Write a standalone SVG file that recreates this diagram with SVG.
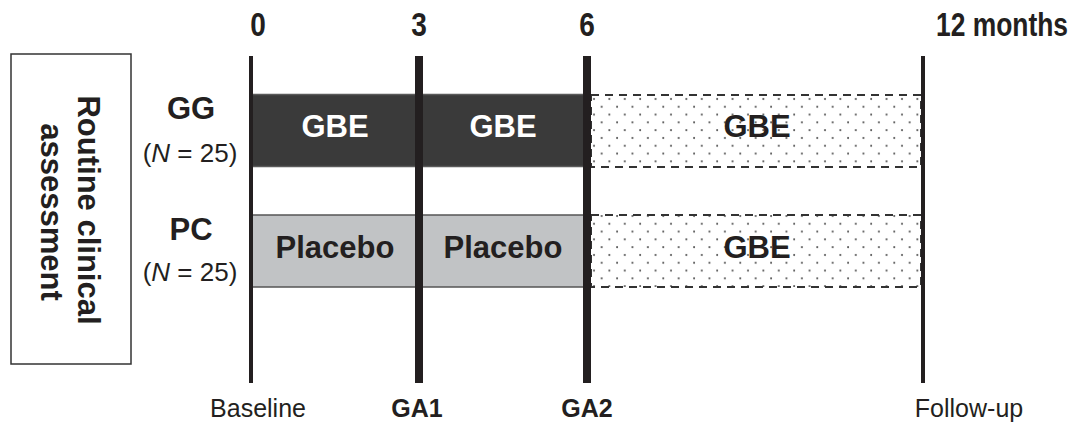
<svg xmlns="http://www.w3.org/2000/svg" width="1071" height="422" viewBox="0 0 1071 422">
  <defs>
    <pattern id="dots" x="591" y="95" width="15.4" height="15.6" patternUnits="userSpaceOnUse">
      <circle cx="3" cy="4" r="1" fill="#4a4a4a"/>
      <circle cx="10.7" cy="11.8" r="1" fill="#4a4a4a"/>
    </pattern>
    <style>
      text { font-family: "Liberation Sans", Arial, sans-serif; fill: #231f20; }
      .b { font-weight: bold; }
      .big { font-size: 31px; }
      .axis { font-size: 33px; font-weight: bold; }
      .n { font-size: 26px; }
      .sm { font-size: 25px; }
      .c { text-anchor: middle; }
      .e { text-anchor: end; }
      .w { fill: #ffffff; }
      .tl { stroke: #231f20; stroke-width: 4; }
      .tk { stroke: #231f20; stroke-width: 8; }
      .dark { fill: #3a3a3a; stroke: #5a5a5a; stroke-width: 1.5; }
      .light { fill: #c1c3c5; stroke: #555555; stroke-width: 1.5; }
      .dash { fill: url(#dots); stroke: #333; stroke-width: 2; stroke-dasharray: 8 6; }
    </style>
  </defs>
  <rect width="1071" height="422" fill="#ffffff"/>

  <!-- left box -->
  <g id="routine-assessment">
    <rect x="11" y="54" width="120" height="310" fill="#ffffff" stroke="#333" stroke-width="1.5"/>
    <text class="b big c" transform="translate(78,210) rotate(90)">Routine clinical</text>
    <text class="b big c" transform="translate(41,212) rotate(90)">assessment</text>
  </g>

  <!-- group labels -->
  <g id="label-gg">
    <text class="b big c" x="191" y="119">GG</text>
    <text class="n c" x="190" y="162">(<tspan font-style="italic">N</tspan> = 25)</text>
  </g>
  <g id="label-pc">
    <text class="b big c" x="191" y="240">PC</text>
    <text class="n c" x="190" y="281">(<tspan font-style="italic">N</tspan> = 25)</text>
  </g>

  <!-- treatment bars -->
  <g id="gg-bars">
    <rect class="dark" x="251" y="94.5" width="336" height="72"/>
    <rect class="dash" x="591" y="95" width="330" height="72"/>
    <text class="b big c w" x="335" y="137">GBE</text>
    <text class="b big c w" x="503" y="137">GBE</text>
    <text class="b big c" x="757" y="137">GBE</text>
  </g>
  <g id="pc-bars">
    <rect class="light" x="251" y="215" width="336" height="72"/>
    <rect class="dash" x="591" y="215" width="330" height="72"/>
    <text class="b big c" x="335" y="258">Placebo</text>
    <text class="b big c" x="503" y="258">Placebo</text>
    <text class="b big c" x="757" y="258">GBE</text>
  </g>

  <!-- timeline lines -->
  <g id="connectors">
    <line class="tl" x1="251" y1="56" x2="251" y2="383"/>
    <line class="tk" x1="419" y1="56" x2="419" y2="383"/>
    <line class="tk" x1="587" y1="56" x2="587" y2="383"/>
    <line class="tl" x1="923" y1="56" x2="923" y2="383"/>
  </g>

  <!-- time axis labels -->
  <g id="axis-top">
    <text class="axis c" transform="translate(258,36) scale(0.85,1)">0</text>
    <text class="axis c" transform="translate(419,36) scale(0.85,1)">3</text>
    <text class="axis c" transform="translate(587,36) scale(0.85,1)">6</text>
    <text class="axis e" transform="translate(1068,36) scale(0.8,1)">12 months</text>
  </g>
  <g id="axis-bottom">
    <text class="sm c" x="258" y="417">Baseline</text>
    <text class="sm b c" x="417" y="417">GA1</text>
    <text class="sm b c" x="587" y="417">GA2</text>
    <text class="sm c" x="969" y="417">Follow-up</text>
  </g>
</svg>
